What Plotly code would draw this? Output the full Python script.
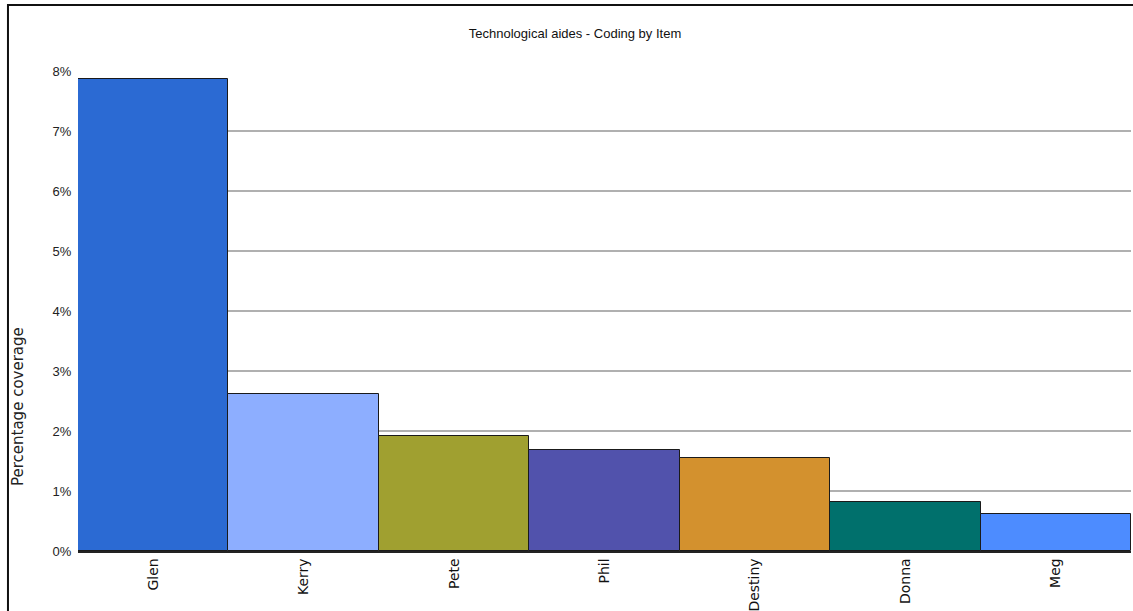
import plotly.graph_objects as go

names = ["Glen", "Kerry", "Pete", "Phil", "Destiny", "Donna", "Meg"]
coverage = [7.87, 2.62, 1.92, 1.68, 1.55, 0.82, 0.62]
colors = ["#2B6AD3", "#8DAEFF", "#A0A030", "#5152AC", "#D3912E", "#00706C", "#4D8CFF"]
yticks = [0, 1, 2, 3, 4, 5, 6, 7, 8]
ylabels = [f"{v}%" for v in yticks]

fig = go.Figure(go.Bar(
    x=names, y=coverage,
    marker=dict(color=colors, line=dict(color="#1a1a1a", width=1)),
    showlegend=False,
))

fig.update_xaxes(
    tickangle=-90, showline=True, linecolor="#222", linewidth=1.5,
    tickfont=dict(family="DejaVu Sans", size=14, color="#111"),
    ticks="", showgrid=False, automargin=False,
)
fig.update_yaxes(
    range=[0, 8], tickvals=yticks, ticktext=ylabels,
    showgrid=True, gridcolor="#b0b0b0", gridwidth=1.5,
    zeroline=False, showline=False, automargin=False,
    ticks="outside", ticklen=3, tickcolor="white",
    tickfont=dict(family="Liberation Sans, Arial", size=13, color="#222"),
)

fig.add_annotation(
    text="Percentage coverage", textangle=-90,
    xref="paper", yref="paper", x=-0.057, y=0.302,
    xanchor="center", yanchor="middle", showarrow=False,
    font=dict(family="DejaVu Sans", size=15, color="#222"),
)
# outer frame of the chart image
fig.add_shape(
    type="rect", xref="paper", yref="paper",
    x0=-0.0665, x1=1.05, y0=-0.5, y1=1.1375,
    line=dict(color="#111", width=2), fillcolor="rgba(0,0,0,0)",
)

fig.update_layout(
    title=dict(text="Technological aides - Coding by Item", x=0.5075, y=0.946,
               xanchor="center", yanchor="middle",
               font=dict(family="Liberation Sans, Arial", size=13, color="#111")),
    width=1133, height=611, bargap=0,
    margin=dict(l=78, r=2, t=71, b=60),
    paper_bgcolor="white", plot_bgcolor="white",
)

fig.write_html("out.html", config={"displayModeBar": False},
               post_script="document.body.style.margin='0';")
